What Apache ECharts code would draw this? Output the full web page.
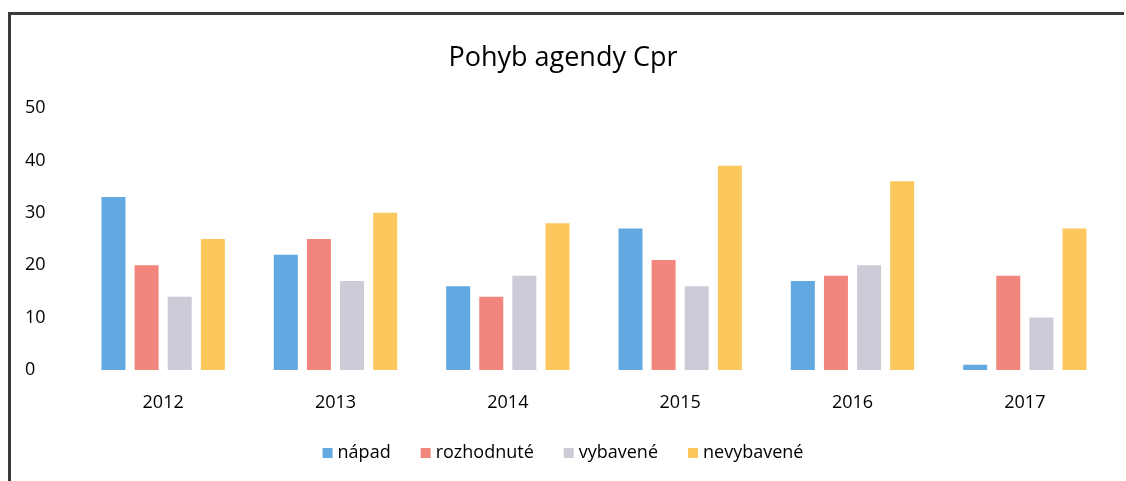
<!DOCTYPE html>
<html>
<head>
<meta charset="utf-8">
<script src="https://cdn.jsdelivr.net/npm/echarts@6/dist/echarts.min.js"></script>
<style>
    html, body { margin: 0; padding: 0; background: #fff; }
    #frame {
        position: absolute; left: 8px; top: 12px; width: 1116px; height: 470px;
        border-left: 3px solid #3a3a3a; border-top: 3px solid #3a3a3a;
        box-sizing: border-box;
    }
    #chart { position: absolute; left: 0; top: 0; width: 1126px; height: 481px; }
</style>
</head>
<body>
<div id="frame"></div>
<div id="chart"></div>
<script>
// data
const years = ['2012', '2013', '2014', '2015', '2016', '2017'];
const napad = [33, 22, 16, 27, 17, 1];
const rozhodnute = [20, 25, 14, 21, 18, 18];
const vybavene = [14, 17, 18, 16, 20, 10];
const nevybavene = [25, 30, 28, 39, 36, 27];
const yTicks = [0, 10, 20, 30, 40, 50];

document.addEventListener('DOMContentLoaded', function() {
    const chart = echarts.init(document.getElementById('chart'));
    const font = '"Open Sans", "Noto Sans", sans-serif';

    function bar(name, data, color) {
        return {
            name: name,
            type: 'bar',
            data: data,
            barWidth: 24,
            barGap: '38%',
            itemStyle: { color: color }
        };
    }

    const option = {
        animation: false,
        textStyle: { fontFamily: font },
        title: {
            text: 'Pohyb agendy Cpr',
            left: 'center',
            top: 40,
            textStyle: { fontFamily: font, fontSize: 27, fontWeight: 'normal', color: '#000' }
        },
        legend: {
            bottom: 14,
            left: 'center',
            itemWidth: 10,
            itemHeight: 10,
            itemGap: 30,
            icon: 'rect',
            textStyle: { fontFamily: font, fontSize: 18, color: '#000' },
            data: ['nápad', 'rozhodnuté', 'vybavené', 'nevybavené']
        },
        grid: {
            left: 77,
            right: 15,
            top: 108,
            bottom: 111
        },
        xAxis: {
            type: 'category',
            data: years,
            axisLine: { show: false },
            axisTick: { show: false },
            axisLabel: { fontSize: 18, color: '#000', margin: 24 }
        },
        yAxis: {
            type: 'value',
            min: yTicks[0],
            max: yTicks[yTicks.length - 1],
            interval: 10,
            splitLine: { show: false },
            axisLine: { show: false },
            axisTick: { show: false },
            axisLabel: { fontSize: 18, color: '#000', align: 'left', margin: 52 }
        },
        series: [
            bar('nápad', napad, '#62a9e2'),
            bar('rozhodnuté', rozhodnute, '#f3867c'),
            bar('vybavené', vybavene, '#cdcbd8'),
            bar('nevybavené', nevybavene, '#fcc75c')
        ]
    };

    chart.setOption(option);
});
</script>
</body>
</html>
